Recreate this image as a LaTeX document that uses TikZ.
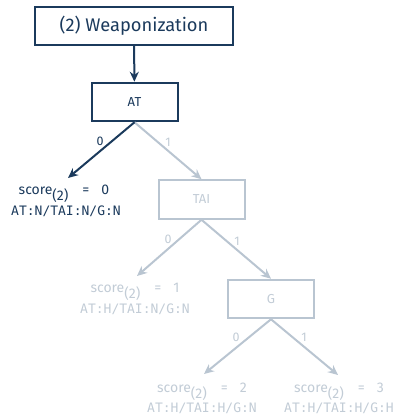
\documentclass[tikz,border=0pt]{standalone}
\usepackage{fontspec}
\setmainfont{Fira Sans}
\setmonofont{DejaVu Sans Mono}
\usetikzlibrary{arrows.meta}
\definecolor{navy}{HTML}{1B3A5C}
\definecolor{faded}{HTML}{B9C5D1}
\definecolor{fadedtext}{HTML}{C2CCD6}
\newcommand{\scoreline}[1]{score\raisebox{-6.5pt}{(2)}\hspace{14pt}=\hspace{12pt}#1}
\tikzset{
  x=1pt, y=-1pt,
  treebox/.style={draw=#1, line width=2pt, minimum width=86pt, minimum height=38.5pt,
    inner sep=0pt, font=\fontsize{13}{15}\selectfont},
  titlebox/.style={draw=navy, line width=2pt, minimum width=198pt, minimum height=38pt,
    inner sep=0pt, text=navy, font=\fontsize{18.3}{22}\selectfont},
  edge/.style={draw=#1, line width=2pt, -{Stealth[length=10pt,width=9pt]}},
  edgelabel/.style={font=\fontsize{12.5}{14}\selectfont, text=#1},
  scoretext/.style={anchor=base, inner sep=0pt, text=#1, font=\fontsize{14}{16}\selectfont},
  codetext/.style={anchor=base, inner sep=0pt, text=#1, font=\ttfamily\fontsize{13}{15}\selectfont},
}
\begin{document}
\begin{tikzpicture}
\useasboundingbox (0,0) rectangle (397,415);

% decision boxes
\node[titlebox] (title) at (134,26) {(2) Weaponization};
\node[treebox=navy, text=navy] (at) at (134.5,102) {AT};
\node[treebox=faded, text=fadedtext] (tai) at (201.5,199.5) {TAI};
\node[treebox=faded, text=fadedtext] (g) at (271,299) {G};

% arrow ends above the leaves
\coordinate (l0) at (68,178);
\coordinate (l1) at (137,276);
\coordinate (l2) at (204,374);
\coordinate (l3) at (338,375);

% leaves: score line and attribute vector
\node[scoretext=navy] (s0) at (64,194) {\scoreline{0}};
\node[codetext=navy] (c0) at (66,215) {AT:N/TAI:N/G:N};
\node[scoretext=fadedtext] (s1) at (135,292) {\scoreline{1}};
\node[codetext=fadedtext] (c1) at (135,313) {AT:H/TAI:N/G:N};
\node[scoretext=fadedtext] (s2) at (202,392) {\scoreline{2}};
\node[codetext=fadedtext] (c2) at (202,412) {AT:H/TAI:H/G:N};
\node[scoretext=fadedtext] (s3) at (339,392) {\scoreline{3}};
\node[codetext=fadedtext] (c3) at (339,412) {AT:H/TAI:H/G:H};

% connectors
\draw[edge=navy] (title) -- (at);
\draw[edge=faded] (at.south) -- (tai.north);
\draw[edge=navy] (at.south) -- (l0);
\draw[edge=faded] (tai.south) -- (l1);
\draw[edge=faded] (tai.south) -- (g.north);
\draw[edge=faded] (g.south) -- (l2);
\draw[edge=faded] (g.south) -- (l3);

% branch labels
\node[edgelabel=navy] (e0) at (100,141) {0};
\node[edgelabel=fadedtext] (e1) at (168,142) {1};
\node[edgelabel=fadedtext] (e2) at (168,239) {0};
\node[edgelabel=fadedtext] (e3) at (237,241) {1};
\node[edgelabel=fadedtext] (e4) at (236,337) {0};
\node[edgelabel=fadedtext] (e5) at (304,337) {1};
\end{tikzpicture}
\end{document}
